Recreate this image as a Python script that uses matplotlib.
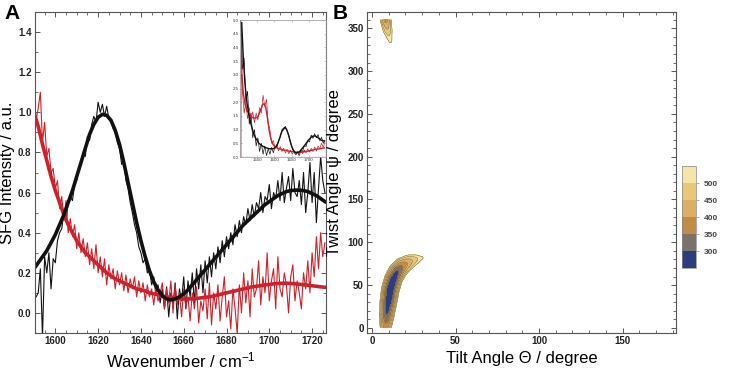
import numpy as np
import matplotlib
matplotlib.use("Agg")
import matplotlib.pyplot as plt
from matplotlib.ticker import MultipleLocator, FormatStrFormatter

plt.rcParams['font.family'] = ['Liberation Sans', 'DejaVu Sans']
plt.rcParams['mathtext.default'] = 'regular'

# ---- panel A data: SFG spectra ----
wn_raw = np.arange(1591, 1727)
black_raw = [0.08,
    0.10, 0.22, -0.12, 0.28, 0.20, 0.30, 0.12, 0.27, 0.25, 0.36,
    0.40, 0.42, 0.50, 0.46, 0.55, 0.58, 0.56, 0.64, 0.66, 0.72,
    0.74, 0.80, 0.78, 0.88, 0.86, 0.94, 0.98, 0.95, 1.05, 1.00,
    1.04, 0.98, 1.03, 0.97, 0.96, 0.92, 0.90, 0.85, 0.82, 0.74,
    0.76, 0.66, 0.62, 0.55, 0.50, 0.44, 0.40, 0.33, 0.30, 0.25,
    0.27, 0.20, 0.22, 0.14, 0.18, 0.09, 0.14, 0.05, 0.12, 0.02,
    0.13, -0.02, 0.10, 0.04, 0.15, -0.03, 0.12, 0.06, 0.18, 0.02,
    0.16, 0.08, 0.20, 0.05, 0.22, 0.12, 0.24, 0.10, 0.26, 0.15,
    0.28, 0.18, 0.30, 0.22, 0.33, 0.25, 0.36, 0.28, 0.38, 0.32,
    0.40, 0.34, 0.44, 0.38, 0.46, 0.40, 0.48, 0.44, 0.52, 0.46,
    0.54, 0.48, 0.55, 0.52, 0.60, 0.50, 0.58, 0.56, 0.64, 0.52,
    0.60, 0.57, 0.66, 0.56, 0.70, 0.55, 0.62, 0.68, 0.56, 0.72,
    0.60, 0.58, 0.66, 0.54, 0.70, 0.50, 0.60, 0.75, 0.55, 0.70,
    0.45, 0.62, 0.78, 0.66, 0.60]
red_raw = [0.96,
    1.02, 1.10, 0.85, 0.95, 0.78, 0.82, 0.70, 0.72, 0.62, 0.66,
    0.52, 0.58, 0.46, 0.56, 0.40, 0.47, 0.38, 0.44, 0.32, 0.40,
    0.30, 0.37, 0.28, 0.35, 0.24, 0.32, 0.22, 0.34, 0.20, 0.28,
    0.18, 0.27, 0.14, 0.24, 0.17, 0.22, 0.12, 0.21, 0.14, 0.20,
    0.11, 0.19, 0.10, 0.17, 0.12, 0.18, 0.08, 0.16, 0.10, 0.15,
    0.06, 0.14, 0.08, 0.12, 0.04, 0.13, 0.06, 0.10, 0.15, 0.02,
    0.12, 0.05, 0.16, 0.00, 0.14, 0.04, 0.10, -0.02, 0.12, 0.03,
    0.08, -0.04, 0.10, 0.02, 0.13, -0.05, 0.06, 0.01, 0.12, -0.03,
    0.15, -0.06, 0.10, 0.02, 0.14, -0.04, 0.08, 0.18, -0.02, 0.06,
    -0.08, 0.12, 0.02, -0.10, 0.14, 0.00, 0.20, 0.05, 0.16, -0.02,
    0.22, 0.08, 0.12, 0.26, 0.04, 0.18, 0.10, 0.30, 0.06, 0.16,
    0.22, 0.02, 0.28, 0.12, 0.08, 0.20, 0.14, 0.00, 0.18, 0.24,
    0.06, 0.16, 0.10, 0.02, 0.20, 0.12, 0.26, 0.10, 0.30, 0.18,
    0.38, 0.22, 0.40, 0.28, 0.35]

wn_fit = np.arange(1590, 1727, 2)
black_fit = [0.22, 0.25, 0.28, 0.31, 0.35, 0.39, 0.44, 0.49, 0.55, 0.61,
    0.68, 0.75, 0.82, 0.89, 0.94, 0.975, 0.99, 0.985, 0.96, 0.91,
    0.84, 0.75, 0.65, 0.55, 0.45, 0.36, 0.28, 0.21, 0.155, 0.115,
    0.085, 0.07, 0.065, 0.07, 0.08, 0.095, 0.115, 0.14, 0.165, 0.19,
    0.215, 0.24, 0.265, 0.29, 0.315, 0.34, 0.365, 0.39, 0.415, 0.44,
    0.46, 0.48, 0.50, 0.52, 0.54, 0.555, 0.57, 0.585, 0.595, 0.605,
    0.61, 0.612, 0.612, 0.61, 0.605, 0.595, 0.585, 0.57, 0.555]
red_fit = [1.00, 0.93, 0.84, 0.76, 0.68, 0.61, 0.55, 0.49, 0.44, 0.40,
    0.36, 0.33, 0.30, 0.28, 0.26, 0.24, 0.22, 0.20, 0.185, 0.17,
    0.16, 0.15, 0.14, 0.13, 0.12, 0.115, 0.11, 0.10, 0.095, 0.09,
    0.085, 0.08, 0.078, 0.075, 0.072, 0.07, 0.07, 0.07, 0.072, 0.075,
    0.078, 0.08, 0.085, 0.09, 0.095, 0.10, 0.105, 0.11, 0.115, 0.12,
    0.125, 0.13, 0.133, 0.136, 0.14, 0.142, 0.145, 0.147, 0.148, 0.148,
    0.147, 0.145, 0.143, 0.14, 0.138, 0.135, 0.133, 0.13, 0.128]

# inset (wider range)
ins_wn_black = np.arange(1502, 1748, 5)
ins_black_raw = [5.0, 3.2, 3.6, 2.0, 2.4, 1.2, 1.6, 0.7, 1.0, 0.4,
    0.7, 0.2, 0.5, 0.1, 0.4, 0.05, 0.3, 0.1, 0.35, 0.15,
    0.4, 0.35, 0.6, 0.72, 1.0, 0.98, 1.12, 0.95, 0.78, 0.5,
    0.32, 0.18, 0.08, 0.2, 0.05, 0.25, 0.2, 0.42, 0.38, 0.6,
    0.55, 0.8, 0.68, 0.85, 0.7, 0.82, 0.6, 0.72, 0.5, 0.62]
ins_wn_red = np.concatenate(([1503, 1504], np.arange(1507, 1748, 5)))
ins_red_raw = [0.0, 4.9,
    2.4, 1.6, 2.0, 1.4, 1.8, 1.3, 1.65, 1.25, 1.6, 1.35,
    1.8, 1.6, 2.25, 1.85, 2.1, 1.2, 1.0, 0.5, 0.6, 0.3,
    0.45, 0.22, 0.38, 0.2, 0.32, 0.15, 0.28, 0.12, 0.25, 0.1,
    0.22, 0.08, 0.2, 0.1, 0.22, 0.12, 0.26, 0.15, 0.3, 0.18,
    0.32, 0.2, 0.36, 0.22, 0.4, 0.3, 0.5, 0.35, 0.55]
ins_wn_fit = np.arange(1505, 1746, 5)
ins_black_fit = [4.9, 3.5, 2.6, 2.0, 1.6, 1.3, 1.05, 0.85, 0.7, 0.6,
    0.5, 0.45, 0.4, 0.37, 0.34, 0.32, 0.3, 0.3, 0.3, 0.32,
    0.38, 0.5, 0.68, 0.88, 1.02, 1.08, 1.02, 0.85, 0.62, 0.4,
    0.25, 0.17, 0.15, 0.17, 0.22, 0.3, 0.38, 0.46, 0.55, 0.63,
    0.7, 0.75, 0.77, 0.76, 0.72, 0.67, 0.62, 0.6, 0.58]
ins_red_fit = [3.0, 2.3, 1.9, 1.7, 1.6, 1.5, 1.45, 1.42, 1.42, 1.45,
    1.55, 1.72, 1.9, 1.95, 1.8, 1.4, 0.95, 0.65, 0.48, 0.4,
    0.35, 0.32, 0.3, 0.28, 0.26, 0.25, 0.24, 0.22, 0.21, 0.2,
    0.19, 0.18, 0.175, 0.17, 0.175, 0.18, 0.19, 0.2, 0.21, 0.22,
    0.235, 0.25, 0.265, 0.28, 0.29, 0.3, 0.31, 0.32, 0.33]

# ---- panel B: orientation map, traced as a valley along a ridge path ----
ridge_psi = np.array([-25, -12, 0, 15, 30, 45, 57, 66, 72, 77, 80, 82])
ridge_theta = np.array([11.0, 9.3, 8.2, 8.8, 9.8, 11.0, 12.8, 15.2, 18, 22, 26, 30])
ridge_value = np.array([540, 460, 380, 300, 262, 250, 258, 295, 355, 425, 485, 540])
ridge_width = np.array([1.5, 4.5, 5.5, 7.5, 8.5, 9, 9, 9, 8.5, 7, 4.5, 1])  # px
levels = [250, 300, 350, 400, 450, 500, 550]
level_colors = ['#2c3d7d', '#7b726c', '#c08c46', '#dbb062', '#e8c878', '#f4e6a8']

BLACK = '#111111'
RED = '#d0202a'
AXC = '#555555'

fig = plt.figure(figsize=(7.44, 3.72), dpi=100)

def style(ax, fs=7):
    for sp in ax.spines.values():
        sp.set_color(AXC)
        sp.set_linewidth(0.8)
    ax.tick_params(which='both', direction='in', top=True, right=True, colors=AXC,
                   labelcolor='#222222', labelsize=fs, pad=2.5)
    ax.tick_params(which='major', length=3.5, width=0.7)
    ax.tick_params(which='minor', length=2, width=0.6)
    for lb in ax.get_xticklabels() + ax.get_yticklabels():
        lb.set_fontweight('bold')

# panel A
axA = fig.add_axes([35/744, 39/372, 291/744, 321/372])
axA.plot(wn_raw, black_raw, color=BLACK, lw=0.8)
axA.plot(wn_raw, red_raw, color=RED, lw=0.8)
axA.plot(wn_fit, red_fit, color=RED, lw=2.6)
axA.plot(wn_fit, black_fit, color=BLACK, lw=2.6)
axA.set_xlim(1590.5, 1726.5)
axA.set_ylim(-0.1, 1.5)
axA.xaxis.set_major_locator(MultipleLocator(20))
axA.xaxis.set_minor_locator(MultipleLocator(5))
axA.yaxis.set_major_locator(MultipleLocator(0.2))
axA.yaxis.set_minor_locator(MultipleLocator(0.1))
axA.yaxis.set_major_formatter(FormatStrFormatter('%.1f'))
style(axA)
axA.set_xlabel('Wavenumber / cm$^{-1}$', fontsize=12)
axA.set_ylabel('SFG Intensity / a.u.', fontsize=12)
axA.xaxis.set_label_coords(0.5, -0.055)
axA.yaxis.set_label_coords(-0.068, 0.5)
fig.text(4/744, 1 - 4/372, 'A', fontsize=15, fontweight='bold', va='top', ha='left')

# inset
axI = fig.add_axes([240/744, 1 - 157/372, 86/744, 137/372])
axI.plot(ins_wn_black, ins_black_raw, color=BLACK, lw=0.5)
axI.plot(ins_wn_red, ins_red_raw, color=RED, lw=0.5)
axI.plot(ins_wn_fit, ins_red_fit, color=RED, lw=1.0)
axI.plot(ins_wn_fit, ins_black_fit, color=BLACK, lw=1.0)
axI.set_xlim(1500, 1750)
axI.set_ylim(0, 5)
axI.set_xticks([1550, 1600, 1650, 1700])
axI.xaxis.set_minor_locator(MultipleLocator(10))
axI.yaxis.set_major_locator(MultipleLocator(0.5))
axI.yaxis.set_minor_locator(MultipleLocator(0.1))
axI.yaxis.set_major_formatter(FormatStrFormatter('%.1f'))
for sp in axI.spines.values():
    sp.set_color('#999999')
    sp.set_linewidth(0.5)
axI.tick_params(which='both', direction='in', top=True, right=True, colors='#999999',
                labelcolor='#333333', labelsize=3.2, pad=1)
axI.tick_params(which='major', length=1.5, width=0.4)
axI.tick_params(which='minor', length=0.8, width=0.3)

# panel B
SX, SY = 1.67, 0.857   # pixels per degree on each axis
theta_g = np.arange(0, 180.25, 0.25)
psi_g = np.arange(0, 360.5, 0.5)
T, P = np.meshgrid(theta_g, psi_g)
Pw = np.where(P > 180, P - 360, P)
seg = np.hypot(np.diff(ridge_theta) * SX, np.diff(ridge_psi) * SY)
s = np.concatenate([[0], np.cumsum(seg)])
sd = np.linspace(0, s[-1], 300)
rt = np.interp(sd, s, ridge_theta)
rp = np.interp(sd, s, ridge_psi)
rv = np.interp(sd, s, ridge_value)
rw = np.interp(sd, s, ridge_width)
Z = np.full(T.shape, 2000.0)
for i in range(len(sd)):
    d = np.hypot((T - rt[i]) * SX, (Pw - rp[i]) * SY) / rw[i]
    Z = np.minimum(Z, rv[i] + (550 - rv[i]) * d**2)
Z = np.clip(Z, 251, 2000)

axB = fig.add_axes([367/744, 39/372, 309/744, 321/372])
cf = axB.contourf(theta_g, psi_g, Z, levels=levels, colors=level_colors)
axB.contour(theta_g, psi_g, Z, levels=levels[1:], colors='#6e5630', linewidths=0.35)
axB.set_xlim(-3, 182)
axB.set_ylim(-6, 369)
axB.xaxis.set_major_locator(MultipleLocator(50))
axB.xaxis.set_minor_locator(MultipleLocator(10))
axB.yaxis.set_major_locator(MultipleLocator(50))
axB.yaxis.set_minor_locator(MultipleLocator(10))
style(axB)
axB.set_xlabel('Tilt Angle Θ / degree', fontsize=12)
axB.set_ylabel('Twist Angle ψ / degree', fontsize=12)
axB.xaxis.set_label_coords(0.5, -0.055)
axB.yaxis.set_label_coords(-0.08, 0.5)
fig.text(333/744, 1 - 4/372, 'B', fontsize=15, fontweight='bold', va='top', ha='left')

cax = fig.add_axes([682/744, 1 - 268/372, 14/744, 102/372])
cb = fig.colorbar(cf, cax=cax, ticks=[300, 350, 400, 450, 500])
cb.outline.set_edgecolor('#888888')
cb.outline.set_linewidth(0.5)
cax.tick_params(labelsize=6, length=2, width=0.5, colors='#888888', labelcolor='#444444')
for lb in cax.get_yticklabels():
    lb.set_fontweight('bold')

fig.savefig('out.png', dpi=100)
